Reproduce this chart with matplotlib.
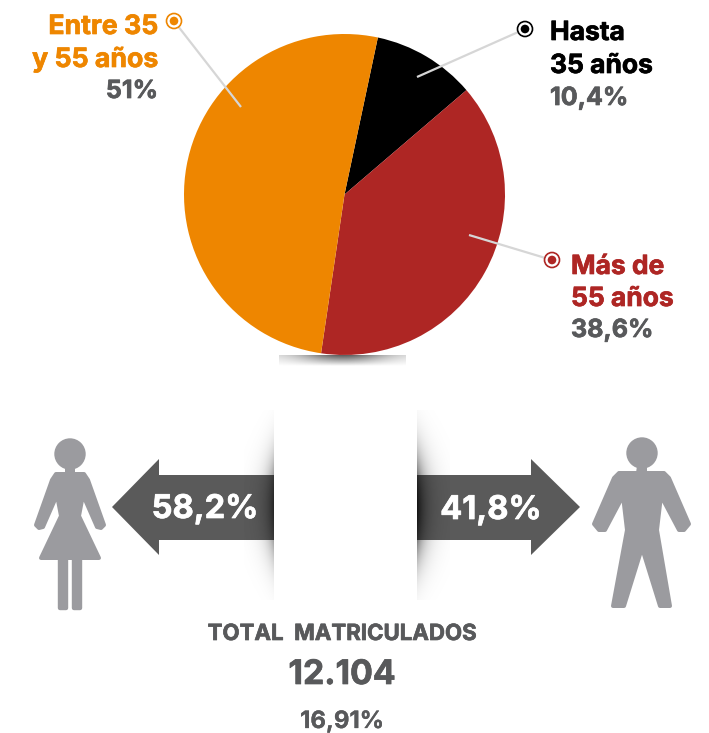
import numpy as np
import matplotlib
matplotlib.use('Agg')
import matplotlib.pyplot as plt
import matplotlib.patheffects as pe
from matplotlib.patches import Polygon, Circle

W, H = 709, 733
plt.rcParams['font.family'] = ['Inter', 'DejaVu Sans']

# order is clockwise from the black wedge
ages = ['Hasta 35 años', 'Más de 55 años', 'Entre 35 y 55 años']
age_values = [10.4, 38.6, 51]
age_colors = ['#000000', '#AE2624', '#EE8600']

female_pct = '58,2%'
male_pct = '41,8%'
total_label = 'TOTAL  MATRICULADOS'
total_value = '12.104'
total_pct = '16,91%'

GRAY = '#58595B'
ICON = '#9B9B9F'
ARROW = '#5A5A5A'
LEADER = '#D6D6D6'

fig = plt.figure(figsize=(W/100, H/100), dpi=100, facecolor='white')

#%% pie
cx, cy, r = 344.5, 194.5, 160.5
pie_ax = fig.add_axes([(cx-r)/W, 1-(cy+r)/H, 2*r/W, 2*r/H], zorder=1)
pie_ax.pie(age_values, colors=age_colors, startangle=78, counterclock=False, radius=1)
pie_ax.set_xlim(-1, 1)
pie_ax.set_ylim(-1, 1)

#%% overlay in pixel coordinates
ax = fig.add_axes([0, 0, 1, 1], zorder=2)
ax.patch.set_alpha(0)
ax.axis('off')

def shadow(x0, x1, y0, y1, alpha):
    rgba = np.zeros((alpha.shape[0], alpha.shape[1], 4))
    rgba[..., 3] = alpha
    ax.imshow(rgba, extent=(x0, x1, y1, y0), aspect='auto', interpolation='bilinear', zorder=4)

# shadow under the pie
xs = np.arange(279, 406) + .5
ys = np.arange(355, 366) + .5
xx, yy = np.meshgrid(xs, ys)
shadow(279, 406, 355, 366, (.1 + .55*np.exp(-((xx-343)/42)**2)) * (1-(yy-355)/11))

# arrows
left_arrow = [(112, 507), (159, 459), (159, 475), (274, 475), (274, 540), (159, 540), (159, 555)]
right_arrow = [(580, 507), (531, 459), (531, 475), (417, 475), (417, 540), (531, 540), (531, 555)]
ax.add_patch(Polygon(left_arrow, closed=True, fc=ARROW, ec='none', zorder=3))
ax.add_patch(Polygon(right_arrow, closed=True, fc=ARROW, ec='none', zorder=3))

# shadows beside the white strip
ys = np.arange(410, 600) + .5
xs = np.arange(244, 274) + .5
xx, yy = np.meshgrid(xs, ys)
shadow(244, 274, 410, 600, .6*np.exp(-(274-xx)/8)*np.exp(-((yy-507)/50)**2))
xs = np.arange(417, 450) + .5
xx, yy = np.meshgrid(xs, ys)
shadow(417, 450, 410, 600, .8*np.exp(-(xx-417)/9)*np.exp(-((yy-507)/52)**2))

# leader lines and ring markers
leaders = [((174, 21), (241, 107), age_colors[2]),
           ((525, 29), (417, 77), age_colors[0]),
           ((552, 260), (469, 235), age_colors[1])]
for (mx, my), (ex, ey), c in leaders:
    ax.plot([mx, ex], [my, ey], color=LEADER, lw=1.6, zorder=5, solid_capstyle='butt')
    ax.add_patch(Circle((mx, my), 7.5, fc='white', ec=c, lw=1.2, zorder=6))
    ax.add_patch(Circle((mx, my), 4.3, fc=c, ec='none', zorder=7))

def rounded(points, pad=2):
    ax.add_patch(Polygon(points, closed=True, fc=ICON, ec=ICON, lw=pad*2*.72, joinstyle='round', zorder=3))

# woman
ax.add_patch(Circle((70, 454), 15.7, fc=ICON, ec='none', zorder=3))
rounded([(67, 466), (73, 466), (73, 474), (84, 474), (88, 480), (104, 525), (101, 528), (97, 527),
         (83, 495), (79, 516), (99, 558), (41, 558), (61, 516), (57, 495), (43, 527), (39, 528),
         (36, 525), (52, 480), (56, 474), (67, 474)])
rounded([(60, 558), (66, 558), (66, 608), (60, 608)], 2.2)
rounded([(74, 558), (80, 558), (80, 608), (74, 608)], 2.2)

# man
ax.add_patch(Circle((642, 453), 15.7, fc=ICON, ec='none', zorder=3))
rounded([(639, 466), (645, 466), (645, 473), (664, 473), (669, 478), (689, 524), (684, 530), (679, 530),
         (661, 496), (657, 530), (670, 606), (660, 606), (642, 548), (624, 606), (613, 606),
         (627, 530), (623, 496), (605, 530), (599, 530), (594, 524), (614, 478), (619, 473), (638, 473)])

# texts, with a thin stroke since the original face is heavier
def label(x, y, s, color, size, ha='left', weight='bold', stroke=.5):
    t = ax.text(x, y, s, color=color, fontsize=size, ha=ha, va='baseline', fontweight=weight, zorder=8)
    t.set_path_effects([pe.withStroke(linewidth=stroke, foreground=color)])

label(158, 34, 'Entre 35', age_colors[2], 19.2, 'right')
label(158, 67, 'y 55 años', age_colors[2], 19.2, 'right')
label(158, 98, '51%', GRAY, 18, 'right')
label(550, 40, 'Hasta', age_colors[0], 19)
label(550, 73, '35 años', age_colors[0], 19)
label(550, 105, '10,4%', GRAY, 18)
label(571, 274, 'Más de', age_colors[1], 19)
label(571, 306, '55 años', age_colors[1], 19)
label(571, 337, '38,6%', GRAY, 18)

label(205, 518, female_pct, 'white', 23.5, 'center')
label(491, 519, male_pct, 'white', 23.5, 'center')
label(342.5, 640, total_label, GRAY, 16, 'center')
label(342, 684, total_value, GRAY, 24.3, 'center')
label(342, 728, total_pct, GRAY, 17.2, 'center', stroke=.2)

ax.set_xlim(0, W)
ax.set_ylim(H, 0)

fig.savefig('out.png', dpi=100)
